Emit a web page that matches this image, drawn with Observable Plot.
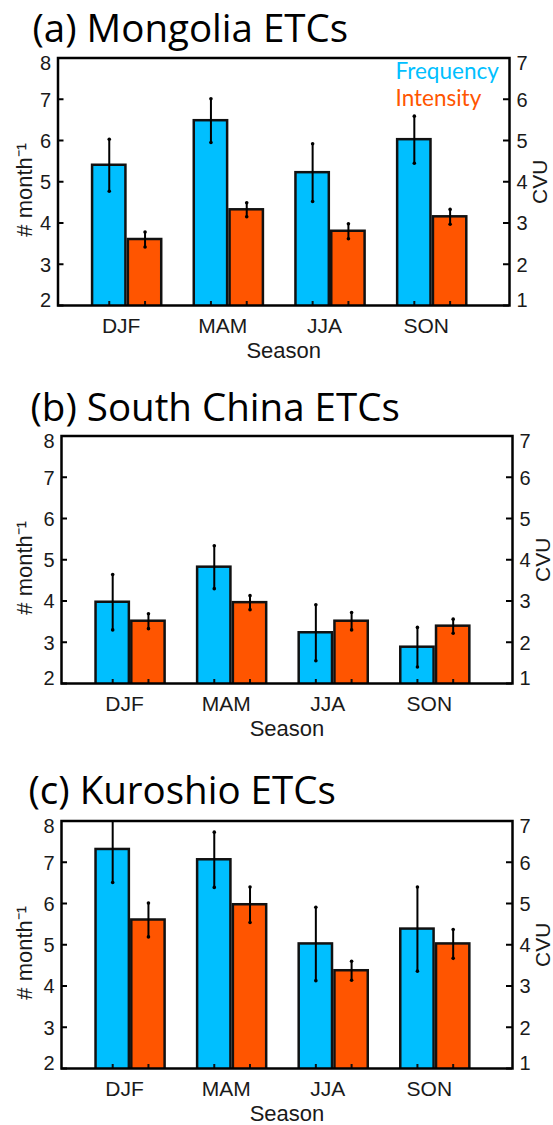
<!DOCTYPE html>
<html>
<head>
<meta charset="utf-8">
<script src="https://cdn.jsdelivr.net/npm/d3@7"></script>
<script src="https://cdn.jsdelivr.net/npm/@observablehq/plot@0.6"></script>
<style>
  html, body { margin: 0; padding: 0; background: #fff; width: 553px; height: 1125px; overflow: hidden; }
  .panel { position: absolute; left: 0; width: 553px; }
</style>
</head>
<body>
<div id="root"></div>
<script>
// Seasons on the x axis
const seasons = ["DJF", "MAM", "JJA", "SON"];

// Panel titles
const panelTitles = ["(a) Mongolia ETCs", "(b) South China ETCs", "(c) Kuroshio ETCs"];

// Left axis (# month^-1) and right axis (CVU) tick values
const freqTicks = [2, 3, 4, 5, 6, 7, 8];
const cvuTicks = [1, 2, 3, 4, 5, 6, 7];

// Series names (legend)
const seriesNames = ["Frequency", "Intensity"];

// (a) Mongolia ETCs
const freqMongolia = [5.40, 6.48, 5.22, 6.02];
const freqErrMongolia = [0.63, 0.53, 0.70, 0.57];
const intMongolia = [2.60, 3.32, 2.80, 3.15];
const intErrMongolia = [0.18, 0.17, 0.18, 0.18];

// (b) South China ETCs
const freqSouthChina = [3.97, 4.82, 3.23, 2.88];
const freqErrSouthChina = [0.67, 0.52, 0.68, 0.48];
const intSouthChina = [2.51, 2.96, 2.51, 2.39];
const intErrSouthChina = [0.18, 0.17, 0.21, 0.17];

// (c) Kuroshio ETCs
const freqKuroshio = [7.31, 7.06, 5.02, 5.38];
const freqErrKuroshio = [0.80, 0.67, 0.89, 1.02];
const intKuroshio = [4.60, 4.97, 3.37, 4.02];
const intErrKuroshio = [0.41, 0.43, 0.23, 0.35];

const BLUE = "#00BFFF";
const ORANGE = "#FF5500";
// The CVU axis on the right is the left axis shifted down by one unit
const CVU_SHIFT = 1;

const W = 553, H = 372, FH = 247.5, MT = 57.5;
const SANS = "Liberation Sans, Arial, sans-serif";
const HUMANIST = "Open Sans, sans-serif";

function panel({title, freq, freqErr, inten, intenErr, marginLeft, marginRight, legend, titleLeft, titleBaseline}) {
  const fw = W - marginLeft - marginRight;
  const bars = seasons.flatMap((s, i) => {
    const c = i + 1;
    return [
      {kind: seriesNames[0], x1: c - 0.34, x2: c - 0.012, v: freq[i], e: freqErr[i], shift: 0},
      {kind: seriesNames[1], x1: c + 0.012, x2: c + 0.34, v: inten[i], e: intenErr[i], shift: CVU_SHIFT}
    ];
  }).map(d => ({...d, xc: (d.x1 + d.x2) / 2, y: d.v + d.shift, lo: d.v - d.e + d.shift, hi: d.v + d.e + d.shift}));
  const caps = bars.flatMap(d => [{x: d.xc, y: d.lo}, {x: d.xc, y: d.hi}]);

  const tickFont = {fontFamily: SANS, fontSize: 20, fill: "#1a1a1a"};
  // tick labels: the end labels are nudged inward, as on the original axes
  const labelFor = (ticks, side, yOf) => {
    const n = ticks.length;
    const groups = [
      {t: ticks.slice(0, 1), dy: -5},
      {t: ticks.slice(1, n - 1), dy: 1},
      {t: ticks.slice(n - 1), dy: 6}
    ];
    return groups.map(g => Plot.text(g.t, {
      y: yOf, text: d => String(d), frameAnchor: side,
      dx: side === "left" ? -7 : 7,
      textAnchor: side === "left" ? "end" : "start",
      lineAnchor: "middle",
      dy: g.dy, ...tickFont
    }));
  };

  const marks = [
    Plot.rect(bars, {x1: "x1", x2: "x2", y1: 0, y2: "y", fill: "kind", stroke: "#111", strokeWidth: 2.5, clip: true}),
    Plot.tickX(bars, {x: "xc", stroke: "#111", strokeWidth: 2, insetTop: FH - 4}),
    Plot.ruleX(bars, {x: "xc", y1: "lo", y2: "hi", stroke: "#000", strokeWidth: 2, clip: true}),
    Plot.dot(caps, {x: "x", y: "y", r: 1.8, fill: "#000", clip: true}),
    Plot.frame({stroke: "#000", strokeWidth: 2.5}),
    Plot.tickY(freqTicks, {y: d => d, insetRight: fw - 6, stroke: "#000", strokeWidth: 2}),
    Plot.tickY(cvuTicks, {y: d => d + CVU_SHIFT, insetLeft: fw - 6, stroke: "#000", strokeWidth: 2}),
    ...labelFor(freqTicks, "left", d => d),
    ...labelFor(cvuTicks, "right", d => d + CVU_SHIFT),
    Plot.text(seasons, {x: (d, i) => i + 1, text: d => d, frameAnchor: "bottom", lineAnchor: "middle",
      dy: 21, dx: -6, fontFamily: SANS, fontSize: 21, fill: "#1a1a1a"}),
    Plot.text(["Season"], {text: d => d, frameAnchor: "bottom", lineAnchor: "middle", textAnchor: "middle",
      dy: 45, fontFamily: SANS, fontSize: 22, fill: "#1a1a1a"}),
    Plot.text(["# month⁻¹"], {text: d => d, frameAnchor: "left", textAnchor: "middle", lineAnchor: "middle",
      dx: 24 - marginLeft, dy: 8, rotate: -90, fontFamily: SANS, fontSize: 22, fill: "#1a1a1a"}),
    Plot.text(["CVU"], {text: d => d, frameAnchor: "right", textAnchor: "middle", lineAnchor: "middle",
      dx: 31, dy: 0, rotate: -90, fontFamily: SANS, fontSize: 21, fill: "#1a1a1a"}),
    Plot.text([title], {text: d => d, frameAnchor: "top-left", textAnchor: "start", lineAnchor: "bottom",
      dx: titleLeft - marginLeft, dy: titleBaseline - MT, fontFamily: HUMANIST, fontSize: 38.5, fill: "#000"})
  ];
  if (legend) {
    marks.push(
      Plot.text([seriesNames[0]], {text: d => d, frameAnchor: "top-left", dx: 395 - marginLeft, dy: 14,
        textAnchor: "start", lineAnchor: "middle", fill: BLUE, fontFamily: "Lato, sans-serif", fontSize: 22.5}),
      Plot.text([seriesNames[1]], {text: d => d, frameAnchor: "top-left", dx: 395 - marginLeft, dy: 41,
        textAnchor: "start", lineAnchor: "middle", fill: ORANGE, fontFamily: "Lato, sans-serif", fontSize: 22.5})
    );
  }

  return Plot.plot({
    width: W, height: H,
    marginLeft, marginRight, marginTop: MT, marginBottom: H - MT - FH,
    x: {domain: [0.32, 4.76], axis: null},
    y: {domain: [2, 8], axis: null},
    color: {domain: seriesNames, range: [BLUE, ORANGE]},
    style: {background: "transparent", overflow: "visible", fontFamily: SANS},
    marks
  });
}

const panels = [
  {freq: freqMongolia, freqErr: freqErrMongolia, inten: intMongolia, intenErr: intErrMongolia,
   marginLeft: 57.5, marginRight: 44, legend: true, top: 0, titleLeft: 32, titleBaseline: 41},
  {freq: freqSouthChina, freqErr: freqErrSouthChina, inten: intSouthChina, intenErr: intErrSouthChina,
   marginLeft: 61, marginRight: 41, legend: false, top: 377.5, titleLeft: 30, titleBaseline: 42.5},
  {freq: freqKuroshio, freqErr: freqErrKuroshio, inten: intKuroshio, intenErr: intErrKuroshio,
   marginLeft: 61, marginRight: 41, legend: false, top: 763, titleLeft: 28, titleBaseline: 40.5}
];

const root = document.getElementById("root");
panels.forEach((p, k) => {
  const wrap = document.createElement("div");
  wrap.className = "panel";
  wrap.style.top = p.top + "px";
  wrap.appendChild(panel({...p, title: panelTitles[k]}));
  root.appendChild(wrap);
});
</script>
</body>
</html>
